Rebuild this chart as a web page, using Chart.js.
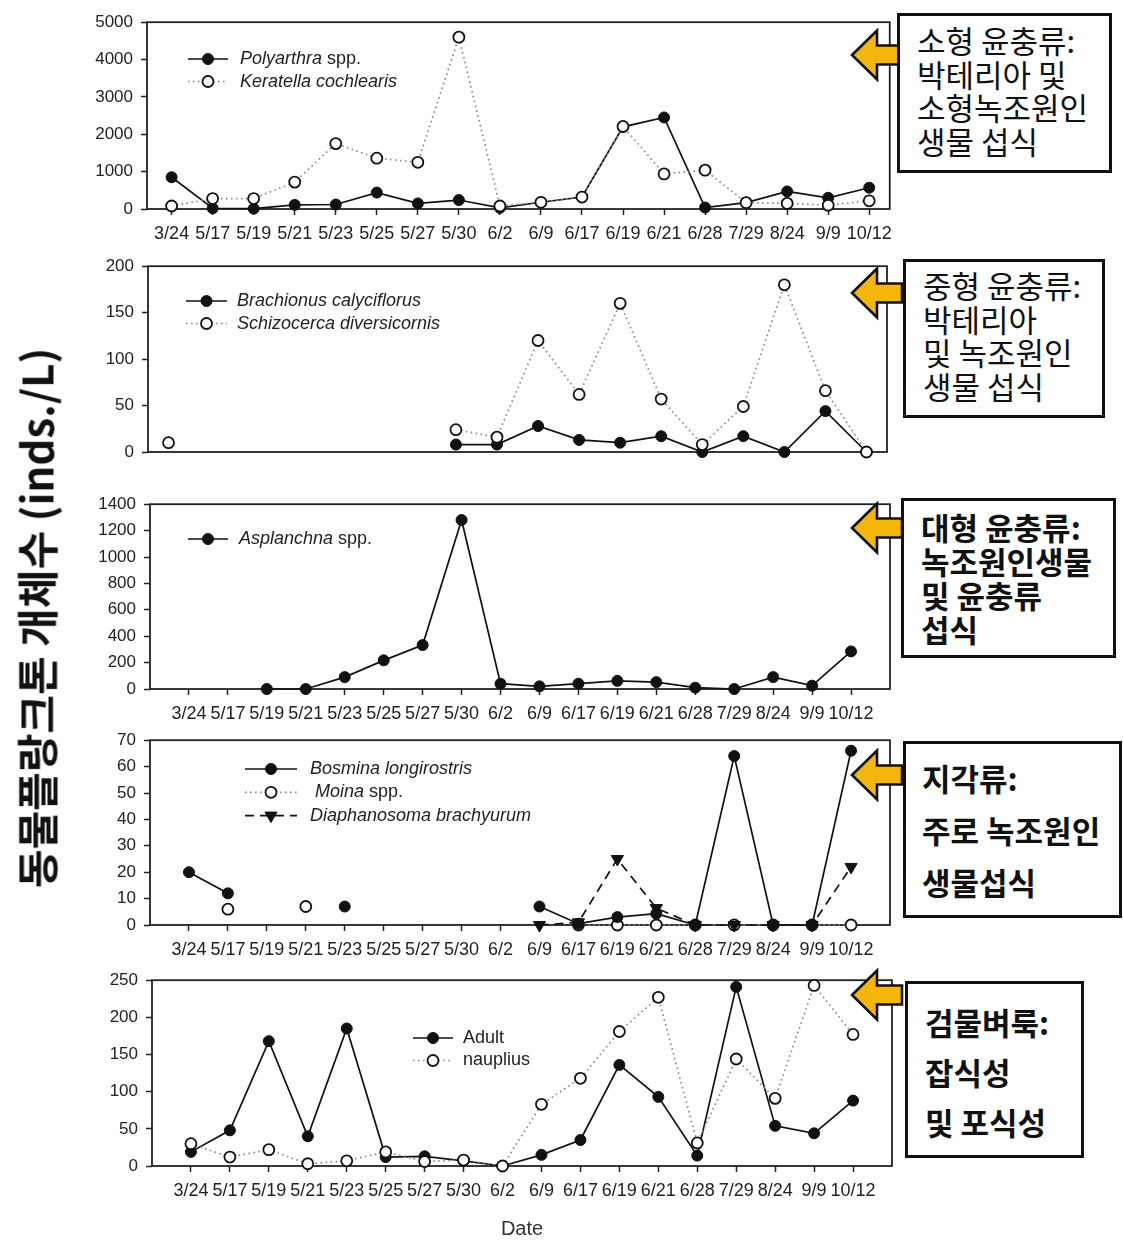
<!DOCTYPE html>
<html>
<head>
<meta charset="utf-8">
<title>동물플랑크톤 개체수</title>
<script src="https://cdn.jsdelivr.net/npm/chart.js@4.4.1/dist/chart.umd.min.js"></script>
<style>
  html, body { margin: 0; padding: 0; background: #fff; }
  #page { position: relative; width: 1123px; height: 1241px; overflow: hidden; background: #fff; }
  #page canvas { position: absolute; left: 0; }
  #arrows { position: absolute; left: 0; top: 0; }
  .note {
    position: absolute; box-sizing: border-box; border: 3px solid #111; background: #fff;
    font-family: "Noto Sans CJK KR", sans-serif; font-size: 31px; color: #111; white-space: nowrap;
  }
  .ytitle {
    position: absolute; left: 35px; top: 618px; transform: translate(-50%, -50%) rotate(-90deg);
    font-family: "Noto Sans CJK KR", sans-serif; font-weight: 700; font-size: 42px; color: #111; white-space: nowrap;
  }
  .xtitle {
    position: absolute; left: 522px; top: 1228px; transform: translate(-50%, -50%);
    font-family: "Liberation Sans", Arial, sans-serif; font-size: 20px; color: #333;
  }
</style>
</head>
<body>
<div id="page">
  <canvas id="c1"></canvas>
  <canvas id="c2"></canvas>
  <canvas id="c3"></canvas>
  <canvas id="c4"></canvas>
  <canvas id="c5"></canvas>

  <svg id="arrows" width="1123" height="1241"></svg>

  <div class="note" style="left:897px;top:13px;width:215px;height:160px;padding:7px 0 0 17px;line-height:33.5px;font-weight:400">
    <div>소형 윤충류:</div><div>박테리아 및</div><div>소형녹조원인</div><div>생물 섭식</div>
  </div>
  <div class="note" style="left:903px;top:259px;width:202px;height:159px;padding:6px 0 0 17px;line-height:33.5px;font-weight:400">
    <div>중형 윤충류:</div><div>박테리아</div><div>및 녹조원인</div><div>생물 섭식</div>
  </div>
  <div class="note" style="left:901px;top:498px;width:215px;height:160px;padding:9px 0 0 17px;line-height:34px;font-weight:700">
    <div>대형 윤충류:</div><div>녹조원인생물</div><div>및 윤충류</div><div>섭식</div>
  </div>
  <div class="note" style="left:903px;top:741px;width:219px;height:177px;padding:8px 0 0 16px;line-height:52px;font-weight:700">
    <div>지각류:</div><div>주로 녹조원인</div><div>생물섭식</div>
  </div>
  <div class="note" style="left:905px;top:981px;width:179px;height:177px;padding:13px 0 0 17px;line-height:50px;font-weight:700">
    <div>검물벼룩:</div><div>잡식성</div><div>및 포식성</div>
  </div>

  <div class="ytitle">동물플랑크톤 개체수 (inds./L)</div>
  <div class="xtitle">Date</div>
</div>

<script>
// Sampling dates (x categories)
const dates = ['3/24', '5/17', '5/19', '5/21', '5/23', '5/25', '5/27', '5/30', '6/2',
               '6/9', '6/17', '6/19', '6/21', '6/28', '7/29', '8/24', '9/9', '10/12'];

// Small rotifers (inds./L)
const polyarthra = [850, 20, 10, 110, 120, 440, 150, 240, 30, 180, 320, 2200, 2450, 40, 170, 470, 300, 570];
const keratella  = [80, 280, 280, 720, 1750, 1360, 1250, 4600, 80, 180, 320, 2210, 940, 1040, 170, 150, 100, 220];

// Medium rotifers
const brachionus  = [null, null, null, null, null, null, null, 8, 8, 28, 13, 10, 17, 0, 17, 0, 44, 0];
const schizocerca = [10, null, null, null, null, null, null, 24, 16, 120, 62, 160, 57, 8, 49, 180, 66, 0];

// Large rotifers
const asplanchna = [null, null, 0, 0, 90, 217, 333, 1280, 40, 20, 40, 62, 52, 10, 0, 90, 25, 285];

// Cladocerans
const bosmina      = [20, 12, null, null, 7, null, null, null, null, 7, 0.5, 3, 4.3, 0, 64, 0, 0, 66];
const moina        = [null, 6, null, 7, null, null, null, null, null, null, 0, 0, 0, 0, 0, 0, 0, 0];
const diaphanosoma = [null, null, null, null, null, null, null, null, null, 0, 1, 25, 6.4, 0, 0, 0, 0, 22];

// Copepods
const copepodAdult = [19, 48, 168, 40, 185, 12, 13, 7, 0, 15, 35, 136, 93, 14, 241, 54, 44, 88];
const nauplius     = [30, 12, 22, 3, 7, 19, 6, 8, 0, 83, 118, 181, 227, 31, 144, 91, 243, 177];

// Y-axis ranges per panel: [max, step]
const yRanges = [[5000, 1000], [200, 50], [1400, 200], [70, 10], [250, 50]];

const TEXT = '#222';
const LATIN = '"Liberation Sans", Arial, Helvetica, sans-serif';

const toPoints = arr => arr.map((v, i) => ({ x: i, y: v }));

function solidSeries(label, values, order) {
  return { label, data: toPoints(values), order, borderColor: '#111', borderWidth: 1.7,
    pointStyle: 'circle', pointRadius: 5.5, pointBackgroundColor: '#111', pointBorderColor: '#111',
    pointBorderWidth: 1, tension: 0, fill: false, clip: false, spanGaps: false };
}
function dottedSeries(label, values, order) {
  return { label, data: toPoints(values), order, borderColor: '#8a8a8a', borderWidth: 1.7,
    borderDash: [1.6, 3.4], pointStyle: 'circle', pointRadius: 5.5, pointBackgroundColor: '#fff',
    pointBorderColor: '#111', pointBorderWidth: 1.8, tension: 0, fill: false, clip: false, spanGaps: false };
}
function dashedSeries(label, values, order) {
  return { label, data: toPoints(values), order, borderColor: '#111', borderWidth: 1.7,
    borderDash: [9, 6], pointStyle: 'triangle', pointRotation: 180, pointRadius: 7,
    pointBackgroundColor: '#111', pointBorderColor: '#111', pointBorderWidth: 1,
    tension: 0, fill: false, clip: false, spanGaps: false };
}

// Box around the plotting area
const framePlugin = {
  id: 'frame',
  beforeDatasetsDraw(chart) {
    const { ctx, chartArea: a } = chart;
    ctx.save();
    ctx.lineWidth = 1.8;
    ctx.strokeStyle = '#222';
    ctx.strokeRect(a.left, a.top, a.right - a.left, a.bottom - a.top);
    ctx.restore();
  }
};

// Legend drawn inside the plotting area, SigmaPlot style
function drawMarker(ctx, ds, x, y) {
  ctx.save();
  ctx.setLineDash([]);
  ctx.beginPath();
  const r = ds.pointRadius;
  if (ds.pointStyle === 'triangle') {
    let rad = (ds.pointRotation || 0) * Math.PI / 180;
    ctx.moveTo(x + Math.sin(rad) * r, y - Math.cos(rad) * r);
    rad += 2 * Math.PI / 3;
    ctx.lineTo(x + Math.sin(rad) * r, y - Math.cos(rad) * r);
    rad += 2 * Math.PI / 3;
    ctx.lineTo(x + Math.sin(rad) * r, y - Math.cos(rad) * r);
    ctx.closePath();
  } else {
    ctx.arc(x, y, r, 0, Math.PI * 2);
  }
  ctx.fillStyle = ds.pointBackgroundColor;
  ctx.fill();
  ctx.lineWidth = ds.pointBorderWidth;
  ctx.strokeStyle = ds.pointBorderColor;
  ctx.stroke();
  ctx.restore();
}

const inlineLegendPlugin = {
  id: 'inlineLegend',
  afterDatasetsDraw(chart, args, opts) {
    if (!opts || !opts.items) return;
    const ctx = chart.ctx;
    const top = opts.canvasTop;
    opts.items.forEach((item, k) => {
      const ds = chart.data.datasets[item.dataset];
      const y = opts.y - top + k * opts.gap;
      // line sample
      ctx.save();
      ctx.lineWidth = ds.borderWidth;
      ctx.strokeStyle = ds.borderColor;
      ctx.setLineDash(ds.borderDash || []);
      ctx.beginPath();
      ctx.moveTo(opts.x0, y);
      ctx.lineTo(opts.x1, y);
      ctx.stroke();
      ctx.restore();
      drawMarker(ctx, ds, (opts.x0 + opts.x1) / 2, y);
      // label text, mixing italic and upright parts
      ctx.save();
      ctx.fillStyle = TEXT;
      ctx.textBaseline = 'middle';
      ctx.textAlign = 'left';
      let x = opts.tx;
      item.parts.forEach(([txt, italic]) => {
        ctx.font = (italic ? 'italic ' : '') + '18px ' + LATIN;
        ctx.fillText(txt, x, y);
        x += ctx.measureText(txt).width;
      });
      ctx.restore();
    });
  }
};

function makePanel(id, geo, yRange, datasets, legend) {
  const PAD_TOP = 14, XAXIS_H = 42, WIDTH = 900;
  const canvas = document.getElementById(id);
  const canvasTop = geo.top - PAD_TOP;
  canvas.width = WIDTH;
  canvas.height = (geo.bottom - geo.top) + PAD_TOP + XAXIS_H;
  canvas.style.top = canvasTop + 'px';
  legend.canvasTop = canvasTop;

  return new Chart(canvas, {
    type: 'line',
    data: { datasets },
    plugins: [framePlugin, inlineLegendPlugin],
    options: {
      responsive: false,
      animation: false,
      events: [],
      devicePixelRatio: 1,
      layout: { padding: { top: PAD_TOP, right: WIDTH - geo.right, left: 0, bottom: 0 } },
      plugins: { legend: { display: false }, tooltip: { enabled: false }, inlineLegend: legend },
      scales: {
        x: {
          type: 'linear', min: geo.xmin, max: geo.xmax,
          afterFit: s => { s.height = XAXIS_H; },
          afterBuildTicks: s => {
            s.ticks = s.ticks.filter(t => Number.isInteger(t.value) && t.value >= 0 && t.value < dates.length);
          },
          border: { display: false },
          grid: { display: true, drawOnChartArea: false, drawTicks: true, tickLength: 6, tickColor: '#222', tickWidth: 1.5 },
          ticks: {
            stepSize: 1, maxTicksLimit: 40, includeBounds: false, autoSkip: false,
            maxRotation: 0, minRotation: 0, padding: 8, color: TEXT,
            font: { family: LATIN, size: 18 },
            callback: v => (dates[v] !== undefined ? dates[v] : '')
          }
        },
        y: {
          min: 0, max: yRange[0],
          afterFit: s => { s.width = geo.left; },
          border: { display: false },
          grid: { display: true, drawOnChartArea: false, drawTicks: true, tickLength: 6, tickColor: '#222', tickWidth: 1.5 },
          ticks: {
            stepSize: yRange[1], padding: 8, color: TEXT,
            font: { family: LATIN, size: 17 },
            callback: v => String(v)
          }
        }
      }
    }
  });
}

// Panel 1 – small rotifers
makePanel('c1', { left: 147, right: 891, top: 18, bottom: 209, xmin: -0.6, xmax: 17.5 }, yRanges[0],
  [solidSeries('Polyarthra spp.', polyarthra, 1), dottedSeries('Keratella cochlearis', keratella, 0)],
  { x0: 188, x1: 228, tx: 240, y: 59, gap: 22.5, items: [
    { dataset: 0, parts: [['Polyarthra', true], [' spp.', false]] },
    { dataset: 1, parts: [['Keratella cochlearis', true]] } ] });

// Panel 2 – medium rotifers
makePanel('c2', { left: 148, right: 887, top: 262, bottom: 452, xmin: -0.5, xmax: 17.5 }, yRanges[1],
  [solidSeries('Brachionus calyciflorus', brachionus, 1), dottedSeries('Schizocerca diversicornis', schizocerca, 0)],
  { x0: 186, x1: 227, tx: 237, y: 301, gap: 22.5, items: [
    { dataset: 0, parts: [['Brachionus calyciflorus', true]] },
    { dataset: 1, parts: [['Schizocerca diversicornis', true]] } ] });

// Panel 3 – large rotifers
makePanel('c3', { left: 150, right: 890, top: 500, bottom: 689, xmin: -1, xmax: 18 }, yRanges[2],
  [solidSeries('Asplanchna spp.', asplanchna, 0)],
  { x0: 188, x1: 228, tx: 239, y: 539, gap: 22, items: [
    { dataset: 0, parts: [['Asplanchna', true], [' spp.', false]] } ] });

// Panel 4 – cladocerans
makePanel('c4', { left: 150, right: 890, top: 736, bottom: 925, xmin: -1, xmax: 18 }, yRanges[3],
  [solidSeries('Bosmina longirostris', bosmina, 0), dottedSeries('Moina spp.', moina, 2),
   dashedSeries('Diaphanosoma brachyurum', diaphanosoma, 1)],
  { x0: 245, x1: 297, tx: 310, y: 769, gap: 23.3, items: [
    { dataset: 0, parts: [['Bosmina longirostris', true]] },
    { dataset: 1, parts: [[' Moina', true], [' spp.', false]] },
    { dataset: 2, parts: [['Diaphanosoma brachyurum', true]] } ] });

// Panel 5 – copepods
makePanel('c5', { left: 152, right: 892, top: 976, bottom: 1166, xmin: -1, xmax: 18 }, yRanges[4],
  [solidSeries('Adult', copepodAdult, 1), dottedSeries('nauplius', nauplius, 0)],
  { x0: 413, x1: 453, tx: 463, y: 1038, gap: 22.5, items: [
    { dataset: 0, parts: [['Adult', false]] },
    { dataset: 1, parts: [['nauplius', false]] } ] });

// Yellow pointer arrows from the note boxes toward each panel
(function drawArrows() {
  const svg = document.getElementById('arrows');
  const tips = [55, 293, 528, 775, 995];
  const NS = 'http://www.w3.org/2000/svg';
  tips.forEach(cy => {
    const tip = 852, back = 877, end = 902, head = 24.5, shaft = 9.5;
    const pts = [[tip, cy], [back, cy - head], [back, cy - shaft], [end, cy - shaft],
                 [end, cy + shaft], [back, cy + shaft], [back, cy + head]];
    const poly = document.createElementNS(NS, 'polygon');
    poly.setAttribute('points', pts.map(p => p.join(',')).join(' '));
    poly.setAttribute('fill', '#F5B60C');
    poly.setAttribute('stroke', '#111');
    poly.setAttribute('stroke-width', '2.6');
    poly.setAttribute('stroke-linejoin', 'miter');
    svg.appendChild(poly);
  });
})();
</script>
</body>
</html>
